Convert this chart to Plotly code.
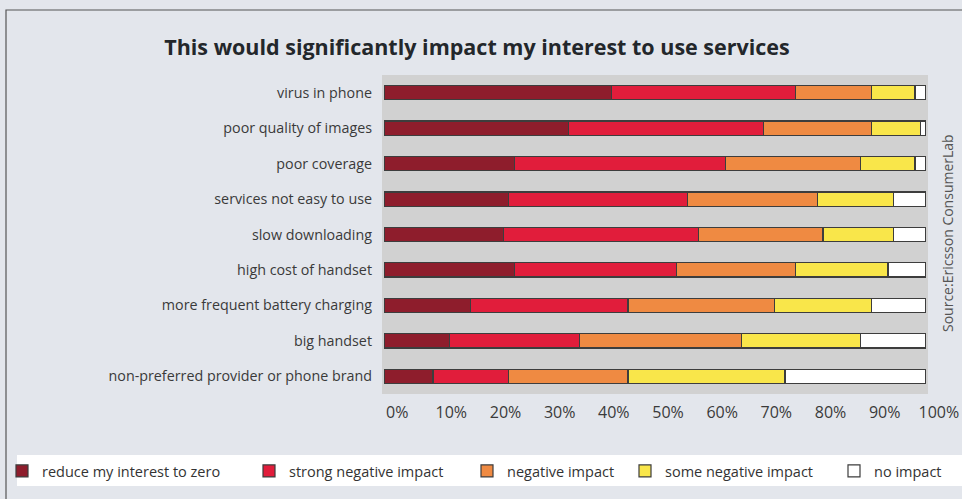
import plotly.graph_objects as go

categories = ["virus in phone", "poor quality of images", "poor coverage",
              "services not easy to use", "slow downloading", "high cost of handset",
              "more frequent battery charging", "big handset",
              "non-preferred provider or phone brand"]
reduce_zero = [42, 34, 24, 23, 22, 24, 16, 12, 9]
strong_neg = [34, 36, 39, 33, 36, 30, 29, 24, 14]
negative = [14, 20, 25, 24, 23, 22, 27, 30, 22]
some_neg = [8, 9, 10, 14, 13, 17, 18, 22, 29]
no_impact = [2, 1, 2, 6, 6, 7, 10, 12, 26]

series_names = ["reduce my interest to zero", "strong negative impact", "negative impact",
                "some negative impact", "no impact"]
series_values = [reduce_zero, strong_neg, negative, some_neg, no_impact]
colors = ["#8e1d2c", "#e11d3b", "#ef8a42", "#f9e64a", "#ffffff"]
tick_vals = [0, 10, 20, 30, 40, 50, 60, 70, 80, 90, 100]
tick_text = [f"{v}%" for v in tick_vals]

W, H = 962, 499
L, R, T, B = 382, 928, 75, 394
FONT = "Open Sans"

fig = go.Figure()
legend_ids = ["legend", "legend2", "legend3", "legend4", "legend5"]
for name, vals, col, lg in zip(series_names, series_values, colors, legend_ids):
    fig.add_trace(go.Bar(
        y=categories, x=vals, name=name, orientation="h",
        marker=dict(color=col, line=dict(color="#3d3d3d", width=1.2)),
        width=0.4, legend=lg, hoverinfo="x+y+name",
    ))

def px2px(xp):
    return (xp - L) / (R - L)

def py2py(yp):
    return (B - yp) / (B - T)

legend_text_x = [43, 290, 508, 666, 875]
layout_legends = {}
for lg, tx in zip(legend_ids, legend_text_x):
    layout_legends[lg] = dict(
        x=(tx - 41) / W, xref="container", xanchor="left",
        y=1 - 471 / H, yref="container", yanchor="middle",
        orientation="h", bgcolor="rgba(0,0,0,0)", borderwidth=0,
        font=dict(family=FONT, size=14.5, color="#333333"),
        itemclick=False, itemdoubleclick=False,
    )

fig.update_layout(
    width=W, height=H,
    margin=dict(l=L, r=W - R, t=T, b=H - B, pad=0, autoexpand=False),
    paper_bgcolor="#e3e6ec",
    plot_bgcolor="#d1d1d1",
    barmode="stack",
    bargap=0.6,
    showlegend=True,
    font=dict(family=FONT, color="#333333"),
    title=dict(
        text="<b>This would significantly impact my interest to use services</b>",
        x=477 / W, xref="container", xanchor="center",
        y=1 - 47 / H, yref="container", yanchor="middle",
        font=dict(family=FONT, size=21.5, color="#23272b"),
    ),
    xaxis=dict(
        range=[-0.4, 100.4], tickvals=tick_vals, ticktext=tick_text,
        showgrid=False, zeroline=False, showline=False, ticks="",
        tickfont=dict(family=FONT, size=16, color="#3a3a3a"),
        ticklabelshift=13, ticklabelstandoff=7, fixedrange=True,
    ),
    yaxis=dict(
        categoryorder="array", categoryarray=categories,
        range=[8.5, -0.5], showgrid=False, zeroline=False, showline=False,
        ticks="", tickfont=dict(family=FONT, size=14.3, color="#3a3a3a"),
        ticklabelstandoff=9, fixedrange=True,
    ),
    shapes=[
        dict(type="rect", xref="paper", yref="paper",
             x0=px2px(6), x1=px2px(975), y0=py2py(10), y1=py2py(520),
             line=dict(color="#555555", width=1.2), fillcolor="rgba(0,0,0,0)", layer="below"),
        dict(type="rect", xref="paper", yref="paper",
             x0=px2px(17), x1=px2px(975), y0=py2py(455), y1=py2py(486),
             line=dict(width=0), fillcolor="#ffffff", layer="below"),
    ],
    annotations=[
        dict(text="Source:Ericsson ConsumerLab", textangle=-90,
             x=px2px(947), y=py2py(233), xref="paper", yref="paper",
             xanchor="center", yanchor="middle", showarrow=False,
             font=dict(family=FONT, size=14, color="#555555")),
    ],
    **layout_legends,
)

fig.write_html("out.html", config={"displayModeBar": False},
               post_script="document.body.style.margin='0';document.body.style.overflow='hidden';")
